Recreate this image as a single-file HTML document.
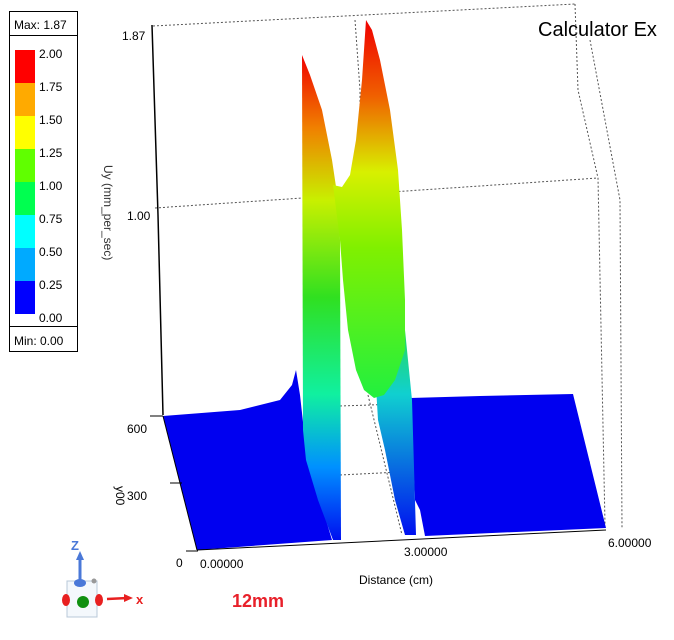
<!DOCTYPE html>
<html><head><meta charset="utf-8"><style>
body{margin:0;background:#fff;width:674px;height:635px;overflow:hidden;font-family:"Liberation Sans",sans-serif}
</style></head><body>
<svg width="674" height="635" viewBox="0 0 674 635" xmlns="http://www.w3.org/2000/svg" font-family="Liberation Sans, sans-serif">
<defs>
<linearGradient id="gl" x1="0" y1="55" x2="0" y2="540" gradientUnits="userSpaceOnUse">
<stop offset="0" stop-color="#f00000"/><stop offset="0.15" stop-color="#f08000"/><stop offset="0.3" stop-color="#c8f000"/><stop offset="0.5" stop-color="#30e020"/><stop offset="0.7" stop-color="#10f0a0"/><stop offset="0.85" stop-color="#0090ff"/><stop offset="1" stop-color="#0010f0"/>
</linearGradient>
<linearGradient id="gr" x1="0" y1="20" x2="0" y2="400" gradientUnits="userSpaceOnUse">
<stop offset="0" stop-color="#f00000"/><stop offset="0.2" stop-color="#f06000"/><stop offset="0.4" stop-color="#d8f000"/><stop offset="0.6" stop-color="#80f000"/><stop offset="1" stop-color="#20f040"/>
</linearGradient>
<linearGradient id="gs" x1="0" y1="300" x2="0" y2="535" gradientUnits="userSpaceOnUse">
<stop offset="0" stop-color="#30e020"/><stop offset="0.4" stop-color="#10d0d0"/><stop offset="1" stop-color="#0010f0"/>
</linearGradient>
</defs>
<!-- legend -->
<rect x="9.5" y="11.5" width="68" height="340" fill="#fff" stroke="#000"/>
<line x1="9" y1="35.5" x2="78" y2="35.5" stroke="#000"/>
<line x1="9" y1="326.5" x2="78" y2="326.5" stroke="#000"/>
<text x="14" y="29" font-size="12">Max: 1.87</text>
<text x="14" y="345" font-size="12">Min: 0.00</text>
<rect x="15" y="50" width="20" height="33" fill="#ff0000"/>
<rect x="15" y="83" width="20" height="33" fill="#ffaa00"/>
<rect x="15" y="116" width="20" height="33" fill="#ffff00"/>
<rect x="15" y="149" width="20" height="33" fill="#60ff00"/>
<rect x="15" y="182" width="20" height="33" fill="#00ff50"/>
<rect x="15" y="215" width="20" height="33" fill="#00ffff"/>
<rect x="15" y="248" width="20" height="33" fill="#00aaff"/>
<rect x="15" y="281" width="20" height="33" fill="#0000ff"/>
<g font-size="12"><text x="39" y="58">2.00</text><text x="39" y="91">1.75</text><text x="39" y="124">1.50</text><text x="39" y="157">1.25</text><text x="39" y="190">1.00</text><text x="39" y="223">0.75</text><text x="39" y="256">0.50</text><text x="39" y="289">0.25</text><text x="39" y="322">0.00</text></g>
<!-- title -->
<text x="538" y="36" font-size="20">Calculator Ex</text>
<!-- box dotted -->
<g stroke="#555" stroke-dasharray="2,2" fill="none" stroke-width="1">
<polyline points="153,26 575,4"/>
<polyline points="155,208 598,178"/>
<polyline points="575,4 578,90 598,178 605,525"/>
<polyline points="590,40 620,200 622,528"/>
<polyline points="355,20 360,90 360,210"/>
<polyline points="340,406 400,404"/>
<polyline points="340,475 400,472"/>
<polyline points="368,395 402,535"/>
<polyline points="480,467 590,462"/>
<polyline points="180,483 250,480"/>
</g>
<!-- z axis -->
<polyline points="152,25 158,215 163,415" stroke="#000" stroke-width="1.5" fill="none"/>
<text x="122" y="40" font-size="12">1.87</text>
<text x="127" y="220" font-size="12">1.00</text>
<text transform="translate(104,165) rotate(90)" font-size="12" fill="#333">Uy (mm_per_sec)</text>
<!-- left floor -->
<polygon points="163,416 240,410 280,400 292,385 296,370 300,395 305,440 320,500 332,540 197,550" fill="#0000f0"/>
<!-- left sheet -->
<polygon points="302,55 310,75 322,110 332,160 338,200 340,240 341,540 333,540 318,500 306,460 303,430" fill="url(#gl)"/>
<!-- right floor -->
<polygon points="410,398 480,396 573,394 606,528 425,536 420,510 415,500" fill="#0000f0"/>
<!-- right strip -->
<polygon points="375,370 395,300 405,330 412,400 416,535 405,535 395,500 385,450 378,420" fill="url(#gs)"/>
<!-- right surface -->
<polygon points="333,185 342,187 350,175 356,140 362,80 366,20 372,30 380,60 390,110 398,170 402,230 405,300 405,350 395,380 384,395 374,398 364,390 356,370 348,330 343,280 340,240" fill="url(#gr)"/>
<!-- axes -->
<polyline points="197,550 606,530" stroke="#000" stroke-width="1"/>
<polyline points="163,416 197,550" stroke="#000" stroke-width="1"/>
<line x1="150" y1="416" x2="163" y2="416" stroke="#000"/>
<line x1="170" y1="483" x2="182" y2="483" stroke="#000"/>
<line x1="186" y1="551" x2="198" y2="551" stroke="#000"/>
<text x="127" y="433" font-size="12">600</text>
<text x="127" y="500" font-size="12">300</text>
<text x="176" y="567" font-size="12">0</text>
<text transform="translate(116,486) rotate(90)" font-size="12">y00</text>
<text x="200" y="568" font-size="12">0.00000</text>
<text x="404" y="556" font-size="12">3.00000</text>
<text x="608" y="547" font-size="12">6.00000</text>
<text x="359" y="584" font-size="12">Distance (cm)</text>
<text x="232" y="607" font-size="18" font-weight="bold" fill="#e8202a">12mm</text>
<!-- triad -->
<rect x="67" y="581" width="30" height="36" fill="#f4f8fc" stroke="#b8c8d8"/>
<line x1="80" y1="580" x2="80" y2="556" stroke="#4a78d8" stroke-width="3"/>
<polygon points="76,560 84,560 80,551" fill="#4a78d8"/>
<text x="71" y="550" font-size="13" font-weight="bold" fill="#4a78d8">Z</text>
<ellipse cx="80" cy="583" rx="6" ry="4" fill="#4a78d8"/>
<circle cx="94" cy="581" r="2.5" fill="#999"/>
<ellipse cx="66" cy="600" rx="4" ry="6" fill="#e82020"/>
<ellipse cx="99" cy="600" rx="4" ry="6" fill="#e82020"/>
<circle cx="83" cy="602" r="6" fill="#109010"/>
<line x1="107" y1="599" x2="128" y2="598" stroke="#e82020" stroke-width="2.5"/>
<polygon points="124,594 133,598 124,602" fill="#e82020"/>
<text x="136" y="604" font-size="13" font-weight="bold" fill="#e82020">x</text>
</svg>
</body></html>
